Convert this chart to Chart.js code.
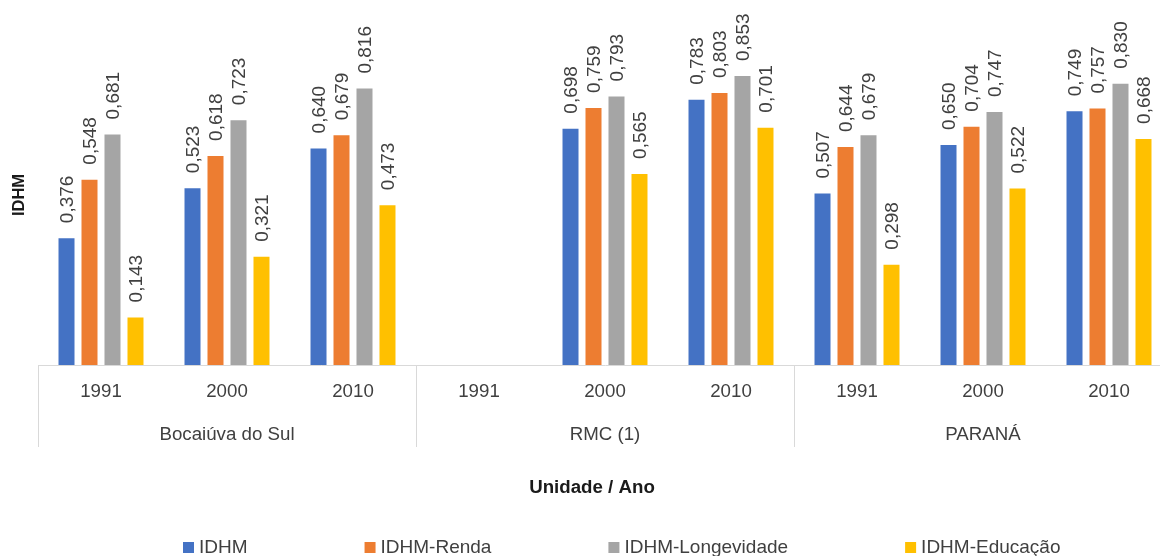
<!DOCTYPE html>
<html lang="pt-BR">
<head>
  <meta charset="UTF-8" />
  <title>IDHM - Bocaiúva do Sul, RMC e Paraná</title>
  <script src="https://cdn.jsdelivr.net/npm/chart.js"></script>
  <style>
    html, body { margin: 0; padding: 0; background: #fff; overflow: hidden; }
    canvas { display: block; }
  </style>
</head>
<body>
  <canvas id="grafico" width="1180" height="556"></canvas>
  <script>
    // dados
    const anos = ['1991', '2000', '2010', '1991', '2000', '2010', '1991', '2000', '2010'];
    const unidades = ['Bocaiúva do Sul', 'RMC (1)', 'PARANÁ'];
    const idhm = [0.376, 0.523, 0.640, null, 0.698, 0.783, 0.507, 0.650, 0.749];
    const idhmRenda = [0.548, 0.618, 0.679, null, 0.759, 0.803, 0.644, 0.704, 0.757];
    const idhmLongevidade = [0.681, 0.723, 0.816, null, 0.793, 0.853, 0.679, 0.747, 0.830];
    const idhmEducacao = [0.143, 0.321, 0.473, null, 0.565, 0.701, 0.298, 0.522, 0.668];

    const FONTE = '"Liberation Sans", Arial, sans-serif';
    const COR_TEXTO = '#404040';
    const COR_LINHA = '#d9d9d9';

    function serie(label, data, cor) {
      return {
        label: label,
        data: data,
        backgroundColor: cor,
        borderColor: '#ffffff',
        borderWidth: 1,
        categoryPercentage: 0.73,
        barPercentage: 0.783
      };
    }

    // rótulos de valor girados
    const rotulosPlugin = {
      id: 'rotulos',
      afterDatasetsDraw(chart) {
        const ctx = chart.ctx;
        ctx.save();
        ctx.font = '19px ' + FONTE;
        ctx.fillStyle = COR_TEXTO;
        ctx.textAlign = 'left';
        ctx.textBaseline = 'middle';
        chart.data.datasets.forEach((ds, i) => {
          const meta = chart.getDatasetMeta(i);
          meta.data.forEach((bar, j) => {
            const v = ds.data[j];
            if (v === null || v === undefined) return;
            ctx.save();
            ctx.translate(bar.x, bar.y - 14);
            ctx.rotate(-Math.PI / 2);
            ctx.fillText(v.toFixed(3).replace('.', ','), 0, 1);
            ctx.restore();
          });
        });
        ctx.restore();
      }
    };

    // segundo nível do eixo x, título do eixo x e legenda
    const eixoPlugin = {
      id: 'eixo',
      afterDraw(chart) {
        const ctx = chart.ctx;
        const x = chart.scales.x;
        const meia = (x.getPixelForValue(1) - x.getPixelForValue(0)) / 2;
        const topo = chart.chartArea.bottom;
        const porGrupo = anos.length / unidades.length;
        ctx.save();
        ctx.strokeStyle = COR_LINHA;
        ctx.lineWidth = 1;
        for (let g = 0; g <= unidades.length; g++) {
          const idx = Math.min(g * porGrupo, anos.length - 1);
          const px = Math.round(x.getPixelForValue(idx) + (g * porGrupo > anos.length - 1 ? meia : -meia)) + 0.5;
          ctx.beginPath();
          ctx.moveTo(px, topo);
          ctx.lineTo(px, topo + 82);
          ctx.stroke();
        }
        ctx.font = '18.7px ' + FONTE;
        ctx.fillStyle = COR_TEXTO;
        ctx.textAlign = 'center';
        ctx.textBaseline = 'middle';
        unidades.forEach((u, g) => {
          const cx = (x.getPixelForValue(g * porGrupo) + x.getPixelForValue(g * porGrupo + porGrupo - 1)) / 2;
          ctx.fillText(u, cx, topo + 70);
        });

        // título do eixo x
        ctx.font = 'bold 18.7px ' + FONTE;
        ctx.fillStyle = '#1a1a1a';
        ctx.fillText('Unidade / Ano', 592, 488);

        // legenda
        ctx.font = '19px ' + FONTE;
        ctx.textAlign = 'left';
        ctx.textBaseline = 'alphabetic';
        let lx = 183;
        chart.data.datasets.forEach(ds => {
          ctx.fillStyle = ds.backgroundColor;
          ctx.fillRect(lx, 542, 11, 11);
          ctx.fillStyle = COR_TEXTO;
          ctx.fillText(ds.label, lx + 16, 553);
          lx += 16 + ctx.measureText(ds.label).width + 117;
        });
        ctx.restore();
      }
    };

    new Chart(document.getElementById('grafico'), {
      type: 'bar',
      data: {
        labels: anos,
        datasets: [
          serie('IDHM', idhm, '#4472C4'),
          serie('IDHM-Renda', idhmRenda, '#ED7D31'),
          serie('IDHM-Longevidade', idhmLongevidade, '#A5A5A5'),
          serie('IDHM-Educação', idhmEducacao, '#FFC000')
        ]
      },
      options: {
        responsive: false,
        animation: false,
        devicePixelRatio: 1,
        layout: { padding: { top: 25, right: 8, left: 0, bottom: 0 } },
        plugins: {
          legend: { display: false },
          tooltip: { enabled: false }
        },
        scales: {
          x: {
            grid: { display: false, drawTicks: false },
            border: { display: true, color: COR_LINHA, width: 1 },
            ticks: {
              color: COR_TEXTO,
              font: { family: FONTE, size: 18.7 },
              padding: 16,
              maxRotation: 0,
              autoSkip: false
            },
            afterFit: s => { s.height = 191; }
          },
          y: {
            min: 0,
            max: 1,
            grid: { display: false },
            border: { display: false },
            ticks: { display: false },
            title: {
              display: true,
              text: 'IDHM',
              color: '#1a1a1a',
              font: { family: FONTE, size: 16.5, weight: 'bold' },
              padding: { top: 10, bottom: 0 }
            },
            afterFit: s => { s.width = 38; }
          }
        }
      },
      plugins: [rotulosPlugin, eixoPlugin]
    });
  </script>
</body>
</html>
